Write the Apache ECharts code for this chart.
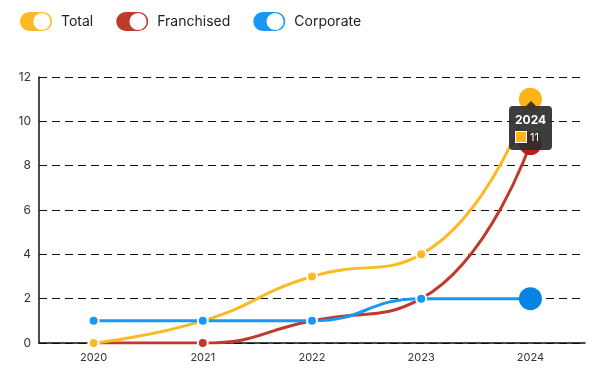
<!DOCTYPE html>
<html>
<head>
<meta charset="utf-8">
<script src="https://cdn.jsdelivr.net/npm/echarts@6/dist/echarts.min.js"></script>
<style>
html,body{margin:0;padding:0;background:#fff;}
#chart{width:594px;height:388px;}
</style>
</head>
<body>
<div id="chart"></div>
<script>
var years = ['2020', '2021', '2022', '2023', '2024'];
var totalValues = [0, 1, 3, 4, 11];
var franchisedValues = [0, 0, 1, 2, 9];
var corporateValues = [1, 1, 1, 2, 2];
var yTicks = [0, 2, 4, 6, 8, 10, 12];

var colors = { total: '#FBBA22', franchised: '#C0392B', corporate: '#1797F6' };
var toggleIcon = 'path://M10.5,0 H23.5 A10.5,10.5 0 0 1 23.5,21 H10.5 A10.5,10.5 0 0 1 10.5,0 Z M22.8,2.9 A7.6,7.6 0 0 0 22.8,18.1 A7.6,7.6 0 0 0 22.8,2.9 Z';

function buildData(values, bigColor) {
  return values.map(function (v, i) {
    if (i === values.length - 1) {
      return { value: v, symbolSize: 23, itemStyle: { color: bigColor, borderWidth: 0 } };
    }
    return v;
  });
}

function makeSeries(name, values, color, bigColor, z) {
  return {
    name: name,
    type: 'line',
    smooth: 0.5,
    z: z,
    data: buildData(values, bigColor),
    symbol: 'circle',
    symbolSize: 10,
    showAllSymbol: true,
    lineStyle: { width: 3, color: color },
    itemStyle: { color: color, borderColor: '#fff', borderWidth: 2 },
    emphasis: { disabled: true }
  };
}

var chart = echarts.init(document.getElementById('chart'));
var option = {
  animation: false,
  textStyle: { fontFamily: 'Inter, sans-serif' },
  legend: {
    left: 13,
    top: 5,
    itemWidth: 34,
    itemHeight: 21,
    itemGap: 21,
    icon: toggleIcon,
    textStyle: { fontSize: 14, color: '#222', fontFamily: 'Inter, sans-serif', padding: [0, 0, 0, 3] },
    data: ['Total', 'Franchised', 'Corporate']
  },
  tooltip: {
    trigger: 'item',
    transitionDuration: 0,
    backgroundColor: 'rgba(45,45,45,0.92)',
    borderWidth: 0,
    padding: [6, 6],
    extraCssText: 'border-radius:4px;box-shadow:none;overflow:visible;',
    textStyle: { color: '#fff', fontSize: 11 },
    formatter: function (p) {
      return '<div style="position:absolute;left:50%;top:-5px;margin-left:-5px;width:0;height:0;border-left:5px solid transparent;border-right:5px solid transparent;border-bottom:5px solid rgba(45,45,45,0.92);"></div>' +
        '<div style="font-weight:bold;font-size:12px;line-height:15px;">' + p.name + '</div>' +
        '<div style="margin-top:4px;line-height:13px;"><span style="display:inline-block;width:10px;height:10px;background:' + p.color + ';border:1px solid #fff;vertical-align:-2px;margin-right:3px;"></span>' + p.value + '</div>';
    },
    position: function (point, params, dom, rect, size) {
      var px = chart.convertToPixel({ seriesIndex: 0 }, [params.dataIndex, params.value]);
      return [px[0] - size.contentSize[0] / 2, px[1] + 7];
    }
  },
  grid: { left: 39, right: 9, top: 77, bottom: 45 },
  xAxis: {
    type: 'category',
    data: years,
    boundaryGap: true,
    axisLine: { show: true, lineStyle: { color: '#111', width: 1.5 } },
    axisTick: { show: false },
    axisLabel: { color: '#333', fontSize: 11, margin: 9 },
    splitLine: { show: false }
  },
  yAxis: {
    type: 'value',
    min: yTicks[0],
    max: yTicks[yTicks.length - 1],
    interval: 2,
    axisLine: { show: true, lineStyle: { color: '#111', width: 1.5 } },
    axisTick: { show: false },
    axisLabel: { color: '#333', fontSize: 12, margin: 8 },
    splitLine: { show: true, lineStyle: { color: '#111', type: [8, 5], width: 1 } }
  },
  series: [
    makeSeries('Total', totalValues, colors.total, '#FBB518', 3),
    makeSeries('Franchised', franchisedValues, colors.franchised, '#B81F10', 2),
    makeSeries('Corporate', corporateValues, colors.corporate, '#0784E2', 4)
  ]
};
chart.setOption(option);
chart.dispatchAction({ type: 'showTip', seriesIndex: 0, dataIndex: 4 });
</script>
</body>
</html>
